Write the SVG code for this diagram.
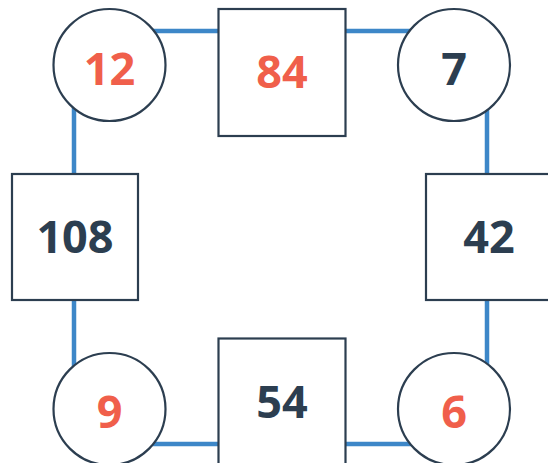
<svg xmlns="http://www.w3.org/2000/svg" width="548" height="463" viewBox="0 0 548 463">
<style>
.node{fill:#fff;stroke:#2c3e50;stroke-width:2.2}
.lbl{font-family:"Open Sans","Liberation Sans",sans-serif;font-weight:700;font-size:45px;text-anchor:middle}
.dark{fill:#2c3e50}
.red{fill:#f05f4b}
.edge{fill:none;stroke:#3d87c8;stroke-width:4.5}
</style>
<rect width="548" height="463" fill="#fff"/>
<g id="connectors">
<path class="edge" d="M110 31H487V444H74V31H110"/>
</g>
<g id="n12"><circle class="node" cx="109.5" cy="65" r="56"/><text class="lbl red" x="109.5" y="85">12</text></g>
<g id="n84"><rect class="node" x="218.5" y="9" width="127" height="127"/><text class="lbl red" x="282" y="88">84</text></g>
<g id="n7"><circle class="node" cx="454" cy="65" r="56"/><text class="lbl dark" x="454" y="85">7</text></g>
<g id="n108"><rect class="node" x="12" y="174" width="126" height="126"/><text class="lbl dark" x="75" y="253">108</text></g>
<g id="n42"><rect class="node" x="426" y="174" width="126" height="126"/><text class="lbl dark" x="489" y="253">42</text></g>
<g id="n9"><circle class="node" cx="109.5" cy="409" r="56"/><text class="lbl red" x="109.5" y="428">9</text></g>
<g id="n54"><rect class="node" x="218.5" y="338.5" width="127" height="127"/><text class="lbl dark" x="282" y="417.5">54</text></g>
<g id="n6"><circle class="node" cx="454" cy="409" r="56"/><text class="lbl red" x="454" y="428">6</text></g>
</svg>
